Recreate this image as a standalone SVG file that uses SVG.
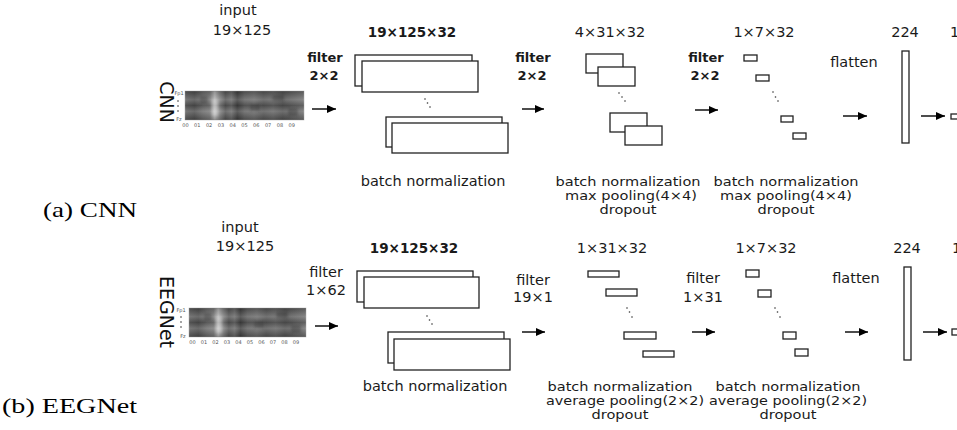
<svg xmlns="http://www.w3.org/2000/svg" width="957" height="430" viewBox="0 0 957 430">
<defs>
<style>
.t{font-family:'DejaVu Sans',sans-serif;font-size:14.5px;fill:#1a1a1a;text-anchor:middle}
.s{font-size:12.5px}
.b{font-weight:bold;font-size:13px}
.bd{font-weight:bold;font-size:13.5px}
.cap{font-family:'Liberation Serif','Times New Roman',serif;font-size:22px;fill:#000}
.rot{font-family:'DejaVu Sans',sans-serif;font-size:19px;fill:#111;text-anchor:middle}
.tick{font-family:'DejaVu Sans',sans-serif;font-size:5px;fill:#555;text-anchor:middle}
.box{fill:#fff;stroke:#222;stroke-width:1.3}
.arr{stroke:#000;stroke-width:1.4;fill:none;marker-end:url(#ah)}
.dot{fill:#333}
.hm{fill:url(#hmg);stroke:#bbb;stroke-width:0.6}
.hs{fill:url(#hmv);opacity:0.45}
.blot{fill:#222;opacity:0.3;filter:url(#soft)}
.lite{fill:#eee;opacity:0.4;filter:url(#soft)}
</style>
<filter id="soft" x="-50%" y="-50%" width="200%" height="200%"><feGaussianBlur stdDeviation="1.6"/></filter>
<marker id="ah" markerUnits="userSpaceOnUse" markerWidth="10" markerHeight="10" refX="9" refY="4" orient="auto">
<path d="M0,0 L9,4 L0,8 z" fill="#000"/>
</marker>
<linearGradient id="hmg" x1="0" y1="0" x2="1" y2="0">
<stop offset="0" stop-color="#5e5e5e"/>
<stop offset="0.08" stop-color="#454545"/>
<stop offset="0.15" stop-color="#6e6e6e"/>
<stop offset="0.21" stop-color="#858585"/>
<stop offset="0.25" stop-color="#e0e0e0"/>
<stop offset="0.29" stop-color="#959595"/>
<stop offset="0.34" stop-color="#4e4e4e"/>
<stop offset="0.39" stop-color="#6e6e6e"/>
<stop offset="0.44" stop-color="#2e2e2e"/>
<stop offset="0.5" stop-color="#5e5e5e"/>
<stop offset="0.58" stop-color="#707070"/>
<stop offset="0.66" stop-color="#525252"/>
<stop offset="0.74" stop-color="#656565"/>
<stop offset="0.82" stop-color="#4a4a4a"/>
<stop offset="0.9" stop-color="#606060"/>
<stop offset="1" stop-color="#7a7a7a"/>
</linearGradient>
<linearGradient id="hmv" x1="0" y1="0" x2="0" y2="1">
<stop offset="0" stop-color="#333"/>
<stop offset="0.3" stop-color="#999"/>
<stop offset="0.5" stop-color="#444"/>
<stop offset="0.7" stop-color="#999"/>
<stop offset="1" stop-color="#333"/>
</linearGradient>
<clipPath id="c1"><rect x="185" y="91" width="119" height="29"/></clipPath>
<clipPath id="c2"><rect x="189" y="308" width="117" height="29"/></clipPath>
</defs>
<rect width="957" height="430" fill="#fff"/>

<!-- Row (a) CNN -->
<g id="cnn-label"><text class="rot" transform="translate(160,102) rotate(90)">CNN</text></g>
<g id="cnn-input">
<text class="t" x="238" y="15">input</text>
<text class="t" x="242" y="35">19×125</text>
<rect class="hm" x="185" y="91" width="119" height="29"/>
<g clip-path="url(#c1)">
<rect class="hs" x="185" y="91" width="119" height="29"/>
<rect class="blot" x="200" y="96" width="8" height="8"/><rect class="blot" x="250" y="104" width="10" height="7"/><rect class="blot" x="272" y="95" width="12" height="6"/><rect class="blot" x="288" y="108" width="10" height="8"/>
<rect class="lite" x="212" y="100" width="6" height="16"/>
</g>
<text class="tick" x="179" y="95">Fp1</text>
<circle class="dot" cx="178" cy="101" r="0.8"/><circle class="dot" cx="178" cy="106" r="0.8"/><circle class="dot" cx="178" cy="111" r="0.8"/>
<text class="tick" x="179" y="121">Fz</text>
<text class="tick" x="185.5" y="127">00</text><text class="tick" x="197.3" y="127">01</text><text class="tick" x="209.1" y="127">02</text><text class="tick" x="220.9" y="127">03</text><text class="tick" x="232.7" y="127">04</text><text class="tick" x="244.5" y="127">05</text><text class="tick" x="256.3" y="127">06</text><text class="tick" x="268.1" y="127">07</text><text class="tick" x="279.9" y="127">08</text><text class="tick" x="291.7" y="127">09</text>
</g>
<g id="cnn-conv1">
<text class="t bd" x="412" y="37">19×125×32</text>
<rect class="box" x="355" y="55" width="117" height="31"/>
<rect class="box" x="362" y="61" width="116" height="31"/>
<circle class="dot" cx="425" cy="99" r="0.8"/><circle class="dot" cx="427.5" cy="103" r="0.8"/><circle class="dot" cx="430" cy="107" r="0.8"/>
<rect class="box" x="386" y="117" width="116" height="30"/>
<rect class="box" x="392" y="123" width="116" height="30"/>
<text class="t" x="433" y="186">batch normalization</text>
</g>
<g id="cnn-conv2">
<text class="t" x="610" y="37">4×31×32</text>
<rect class="box" x="586" y="54" width="37" height="19"/>
<rect class="box" x="598" y="67" width="37" height="19"/>
<circle class="dot" cx="619" cy="93" r="0.8"/><circle class="dot" cx="622" cy="97" r="0.8"/><circle class="dot" cx="625" cy="101" r="0.8"/>
<rect class="box" x="610" y="113" width="37" height="19"/>
<rect class="box" x="625" y="126" width="37" height="19"/>
<text class="t s" x="628" y="186" textLength="145" lengthAdjust="spacingAndGlyphs">batch normalization</text>
<text class="t s" x="631" y="199.5" textLength="132" lengthAdjust="spacingAndGlyphs">max pooling(4×4)</text>
<text class="t s" x="628" y="214" textLength="57" lengthAdjust="spacingAndGlyphs">dropout</text>
</g>
<g id="cnn-conv3">
<text class="t" x="764" y="37">1×7×32</text>
<rect class="box" x="744" y="55" width="13" height="6"/>
<rect class="box" x="756" y="75" width="13" height="6"/>
<circle class="dot" cx="773" cy="92" r="0.8"/><circle class="dot" cx="775.5" cy="97" r="0.8"/><circle class="dot" cx="778" cy="101" r="0.8"/>
<rect class="box" x="781" y="116" width="12" height="6"/>
<rect class="box" x="793" y="133" width="13" height="6"/>
<text class="t s" x="786" y="186" textLength="145" lengthAdjust="spacingAndGlyphs">batch normalization</text>
<text class="t s" x="786" y="199.5" textLength="132" lengthAdjust="spacingAndGlyphs">max pooling(4×4)</text>
<text class="t s" x="786" y="214" textLength="57" lengthAdjust="spacingAndGlyphs">dropout</text>
</g>
<g id="cnn-flat">
<text class="t" x="905" y="37">224</text>
<rect class="box" x="902" y="51" width="7" height="92"/>
</g>
<g id="cnn-out">
<text class="t" x="950" y="37" style="text-anchor:start">1</text>
<rect class="box" x="951" y="114" width="8" height="5"/>
</g>
<g id="cnn-filters">
<text class="t b" x="325" y="62">filter</text><text class="t b" x="324" y="80">2×2</text>
<text class="t b" x="533" y="62">filter</text><text class="t b" x="532" y="80">2×2</text>
<text class="t b" x="706" y="62">filter</text><text class="t b" x="705" y="80">2×2</text>
<text class="t" x="854" y="67">flatten</text>
</g>
<g id="cnn-caption"><text class="cap" x="43" y="217" textLength="94" lengthAdjust="spacingAndGlyphs">(a) CNN</text></g>

<!-- Row (b) EEGNet -->
<g id="eeg-label"><text class="rot" transform="translate(160,312) rotate(90)">EEGNet</text></g>
<g id="eeg-input">
<text class="t" x="240" y="232">input</text>
<text class="t" x="245" y="251">19×125</text>
<rect class="hm" x="189" y="308" width="117" height="29"/>
<g clip-path="url(#c2)">
<rect class="hs" x="189" y="308" width="117" height="29"/>
<rect class="blot" x="204" y="313" width="8" height="8"/><rect class="blot" x="254" y="321" width="10" height="7"/><rect class="blot" x="276" y="312" width="12" height="6"/><rect class="blot" x="291" y="325" width="10" height="8"/>
<rect class="lite" x="216" y="317" width="6" height="16"/>
</g>
<text class="tick" x="181" y="312">Fp1</text>
<circle class="dot" cx="181" cy="317" r="0.8"/><circle class="dot" cx="181" cy="322" r="0.8"/><circle class="dot" cx="181" cy="327" r="0.8"/>
<text class="tick" x="183" y="338">Fz</text>
<text class="tick" x="192.5" y="344">00</text><text class="tick" x="204" y="344">01</text><text class="tick" x="215.5" y="344">02</text><text class="tick" x="227" y="344">03</text><text class="tick" x="238.5" y="344">04</text><text class="tick" x="250" y="344">05</text><text class="tick" x="261.5" y="344">06</text><text class="tick" x="273" y="344">07</text><text class="tick" x="284.5" y="344">08</text><text class="tick" x="296" y="344">09</text>
</g>
<g id="eeg-conv1">
<text class="t bd" x="414" y="253">19×125×32</text>
<rect class="box" x="357" y="271" width="116" height="31"/>
<rect class="box" x="364" y="277" width="115" height="31"/>
<circle class="dot" cx="427" cy="316" r="0.8"/><circle class="dot" cx="429.5" cy="320" r="0.8"/><circle class="dot" cx="432" cy="324" r="0.8"/>
<rect class="box" x="388" y="332" width="116" height="31"/>
<rect class="box" x="394" y="339" width="116" height="31"/>
<text class="t" x="435" y="391">batch normalization</text>
</g>
<g id="eeg-conv2">
<text class="t" x="612" y="253">1×31×32</text>
<rect class="box" x="588" y="271" width="31" height="6"/>
<rect class="box" x="606" y="289" width="31" height="7"/>
<circle class="dot" cx="627" cy="308" r="0.8"/><circle class="dot" cx="629.5" cy="312" r="0.8"/><circle class="dot" cx="632" cy="317" r="0.8"/>
<rect class="box" x="624" y="332" width="32" height="7"/>
<rect class="box" x="643" y="351" width="31" height="6"/>
<text class="t s" x="620" y="391" textLength="145" lengthAdjust="spacingAndGlyphs">batch normalization</text>
<text class="t s" x="625" y="405" textLength="158" lengthAdjust="spacingAndGlyphs">average pooling(2×2)</text>
<text class="t s" x="620" y="419" textLength="57" lengthAdjust="spacingAndGlyphs">dropout</text>
</g>
<g id="eeg-conv3">
<text class="t" x="766" y="253">1×7×32</text>
<rect class="box" x="746" y="270" width="13" height="7"/>
<rect class="box" x="758" y="290" width="13" height="7"/>
<circle class="dot" cx="775" cy="308" r="0.8"/><circle class="dot" cx="777.5" cy="312" r="0.8"/><circle class="dot" cx="780" cy="317" r="0.8"/>
<rect class="box" x="783" y="332" width="13" height="7"/>
<rect class="box" x="795" y="349" width="13" height="7"/>
<text class="t s" x="788" y="391" textLength="145" lengthAdjust="spacingAndGlyphs">batch normalization</text>
<text class="t s" x="788" y="405" textLength="158" lengthAdjust="spacingAndGlyphs">average pooling(2×2)</text>
<text class="t s" x="788" y="419" textLength="57" lengthAdjust="spacingAndGlyphs">dropout</text>
</g>
<g id="eeg-flat">
<text class="t" x="907" y="253">224</text>
<rect class="box" x="904" y="267" width="7" height="93"/>
</g>
<g id="eeg-out">
<text class="t" x="952" y="253" style="text-anchor:start">1</text>
<rect class="box" x="952" y="329" width="8" height="6"/>
</g>
<g id="eeg-filters">
<text class="t" x="326" y="277">filter</text><text class="t" x="326" y="295">1×62</text>
<text class="t" x="533" y="285">filter</text><text class="t" x="533" y="302">19×1</text>
<text class="t" x="703" y="283">filter</text><text class="t" x="703" y="302">1×31</text>
<text class="t" x="856" y="283">flatten</text>
</g>
<g id="eeg-caption"><text class="cap" x="2" y="413" textLength="135" lengthAdjust="spacingAndGlyphs">(b) EEGNet</text></g>

<g id="connectors">
<line class="arr" x1="312" y1="109" x2="336" y2="109"/>
<line class="arr" x1="522" y1="109" x2="544" y2="109"/>
<line class="arr" x1="695" y1="110" x2="718" y2="110"/>
<line class="arr" x1="843" y1="116" x2="867" y2="116"/>
<line class="arr" x1="921" y1="116" x2="945" y2="116"/>
<line class="arr" x1="315" y1="326" x2="338" y2="326"/>
<line class="arr" x1="522" y1="332" x2="545" y2="332"/>
<line class="arr" x1="692" y1="332" x2="715" y2="332"/>
<line class="arr" x1="845" y1="332" x2="868" y2="332"/>
<line class="arr" x1="923" y1="332" x2="947" y2="332"/>
</g>
</svg>
